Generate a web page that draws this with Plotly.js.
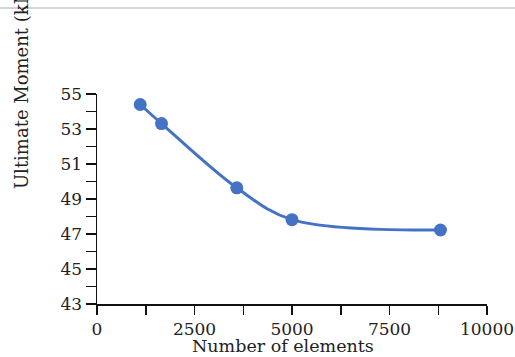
<!DOCTYPE html>
<html>
<head>
<meta charset="utf-8">
<script src="https://cdn.plot.ly/plotly-3.0.1.min.js"></script>
<style>html,body{margin:0;padding:0;background:#fff;}#chart{width:515px;height:357px;}</style>
</head>
<body>
<div id="chart"></div>
<script>
const elements = [1108, 1654, 3584, 5000, 8807];
const moment = [54.40, 53.31, 49.64, 47.82, 47.23];
const xTitle = "Number of elements";
const yTitle = "Ultimate Moment (kN.m)";

const fontFam = "DejaVu Serif, serif";
const trace = {
  x: elements, y: moment, type: 'scatter', mode: 'lines+markers',
  line: {color: '#4472C4', width: 3, shape: 'spline', smoothing: 1},
  marker: {color: '#4472C4', size: 13},
  hoverinfo: 'none'
};
const layout = {
  width: 515, height: 357,
  margin: {l: 97, r: 28, t: 94, b: 53},
  paper_bgcolor: '#fff', plot_bgcolor: '#fff',
  showlegend: false,
  font: {family: fontFam, size: 17, color: '#222'},
  xaxis: {
    range: [0, 10000], tick0: 0, dtick: 2500, tickformat: 'd', showgrid: false, zeroline: false,
    showline: true, linecolor: '#111', linewidth: 1.5,
    ticks: 'outside', ticklen: 9, tickwidth: 1.5, tickcolor: '#111',
    minor: {dtick: 1250, ticks: 'outside', ticklen: 9, tickwidth: 1.5, tickcolor: '#111', showgrid: false},
    tickfont: {family: fontFam, size: 17, color: '#222'}
  },
  yaxis: {
    range: [43, 55], tick0: 43, dtick: 2, showgrid: false, zeroline: false,
    showline: true, linecolor: '#111', linewidth: 1.5,
    ticks: 'outside', ticklen: 10, tickwidth: 1.5, tickcolor: '#111',
    minor: {dtick: 1, ticks: 'outside', ticklen: 10, tickwidth: 1.5, tickcolor: '#111', showgrid: false},
    tickfont: {family: fontFam, size: 17, color: '#222'}
  },
  annotations: [
    {text: yTitle, xref: 'paper', yref: 'paper', x: -0.195, y: 0.54, xanchor: 'center', yanchor: 'bottom',
     textangle: -90, showarrow: false, font: {family: fontFam, size: 18, color: '#222'}},
    {text: xTitle, xref: 'paper', yref: 'paper', x: 0.478, y: -0.2, xanchor: 'center', yanchor: 'middle',
     showarrow: false, font: {family: fontFam, size: 17.5, color: '#222'}}
  ],
  shapes: [
    {type: 'line', xref: 'paper', yref: 'paper', x0: -0.26, x1: 1.08, y0: 1.41, y1: 1.41,
     line: {color: '#d4d4d4', width: 2}}
  ]
};
Plotly.newPlot('chart', [trace], layout, {displayModeBar: false, staticPlot: true});
</script>
</body>
</html>
